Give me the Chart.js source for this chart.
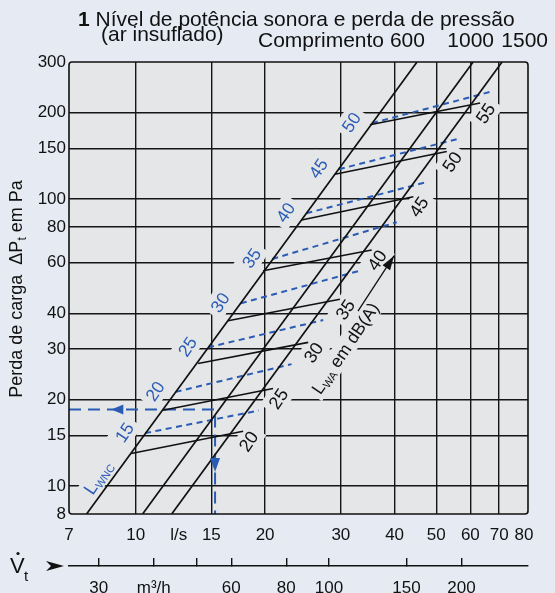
<!DOCTYPE html>
<html>
<head>
<meta charset="utf-8">
<script src="https://cdn.jsdelivr.net/npm/chart.js@4.4.0/dist/chart.umd.min.js"></script>
<style>
  html, body { margin: 0; padding: 0; background: #e5eaf3; }
</style>
</head>
<body>
<canvas id="chart" width="555" height="593"></canvas>
<script>
// Volume flow (l/s, m3/h) against total pressure loss (Pa), log-log nomogram

const flowMin = 7, flowMax = 81.7;
const dpMin = 8, dpMax = 300;
const flowTicks = [7, 10, 12.6, 15, 20, 30, 40, 50, 60, 70, 80];
const flowTickText = ['7', '10', 'l/s', '15', '20', '30', '40', '50', '60', '70', '80'];
const m3hTicks = [30, 40, 50, 60, 80, 100, 150, 200];
const m3hTickText = ['30', 'm³/h', '', '60', '80', '100', '150', '200'];
const dpTicks = [8, 10, 15, 20, 30, 40, 60, 80, 100, 150, 200, 300];

// duct length lines (Comprimento), flow where each one meets 8 Pa and 300 Pa
const lengths = [600, 1000, 1500];
const lengthFlowLow = [7.69, 10.38, 12.13];
const lengthFlowHigh = [45.1, 60.9, 71.1];

// sound power level lines L_WA
const lwaLevels = [20, 25, 30, 35, 40, 45, 50, 55];
const lwaFlowStart = [9.77, 11.58, 13.97, 16.40, 19.79, 24.31, 29.06, 35.06];
const lwaDpStart = [12.99, 18.39, 26.76, 37.67, 56.29, 84.56, 122.0, 181.3];
const lwaFlowEnd = [17.78, 20.87, 25.19, 29.85, 35.39, 44.23, 52.89, 63.23];
const lwaDpEnd = [15.54, 21.89, 31.67, 44.75, 66.46, 101.9, 146.3, 215.9];

// noise criterion lines L_WNC
const wncLevels = [15, 20, 25, 30, 35, 40, 45, 50];
const wncFlowStart = [10.52, 12.39, 14.74, 17.56, 20.78, 24.94, 29.69, 35.44];
const wncDpStart = [15.30, 21.30, 30.43, 43.32, 61.83, 89.23, 127.0, 183.8];
const wncFlowEnd = [19.34, 23.04, 27.30, 33.23, 40.46, 47.09, 55.80, 67.33];
const wncDpEnd = [18.34, 26.61, 37.89, 56.29, 83.0, 114.1, 161.6, 236.9];

// reading example: 15.3 l/s gives 18.5 Pa
const exampleFlow = 15.3;
const exampleDp = 18.5;

const FONT = '"Liberation Sans", Arial, Helvetica, sans-serif';
const INK = '#111111';
const BLUE = '#2a5cb5';
const PAGE_BG = '#e5eaf3';
const PLOT_BG = '#e5e6e8';
const ANG = -56 * Math.PI / 180;

function setFont(ctx, r) {
  ctx.font = (r.bold ? 'bold ' : '') + r.size + 'px ' + FONT;
}
function runsWidth(ctx, runs) {
  let w = 0;
  for (const r of runs) { setFont(ctx, r); w += ctx.measureText(r.t).width; }
  return w;
}
// text made of pieces (subscripts etc.), centred on x,y and turned by angle
function drawRuns(ctx, runs, x, y, angle, color) {
  const w = runsWidth(ctx, runs);
  const size = runs[0].size;
  ctx.save();
  ctx.translate(x, y);
  ctx.rotate(angle);
  ctx.fillStyle = color;
  ctx.textAlign = 'left';
  ctx.textBaseline = 'alphabetic';
  let cx = -w / 2;
  for (const r of runs) {
    setFont(ctx, r);
    ctx.fillText(r.t, cx, size * 0.36 + (r.dy || 0));
    cx += ctx.measureText(r.t).width;
  }
  ctx.restore();
}
// knock the grid out behind a label
function clearBehind(ctx, runs, x, y, angle, pad) {
  const w = runsWidth(ctx, runs);
  const h = runs[0].size * 0.75;
  ctx.save();
  ctx.translate(x, y);
  ctx.rotate(angle);
  ctx.fillStyle = PLOT_BG;
  ctx.fillRect(-w / 2 - pad, -h / 2 - pad, w + 2 * pad, h + 2 * pad);
  ctx.restore();
}
function arrowHead(ctx, tx, ty, fx, fy, len, half, color) {
  const a = Math.atan2(ty - fy, tx - fx);
  ctx.save();
  ctx.translate(tx, ty);
  ctx.rotate(a);
  ctx.fillStyle = color;
  ctx.beginPath();
  ctx.moveTo(0, 0);
  ctx.lineTo(-len, -half);
  ctx.lineTo(-len, half);
  ctx.closePath();
  ctx.fill();
  ctx.restore();
}

function labelList(chart) {
  const xs = chart.scales.x, ys = chart.scales.y;
  const list = [];
  lwaLevels.forEach((lv, i) => {
    list.push({ runs: [{ t: String(lv), size: 18 }], color: INK, pad: 5,
      x: xs.getPixelForValue(lwaFlowEnd[i]) + 5, y: ys.getPixelForValue(lwaDpEnd[i]) + 10 });
  });
  wncLevels.forEach((lv, i) => {
    list.push({ runs: [{ t: String(lv), size: 17.5 }], color: BLUE, pad: 5,
      x: xs.getPixelForValue(wncFlowStart[i]) - 21, y: ys.getPixelForValue(wncDpStart[i]) - 1 });
  });
  list.push({ runs: [{ t: 'L', size: 18 }, { t: 'WNC', size: 11, dy: 3 }], color: BLUE, pad: 4,
    x: xs.getPixelForValue(8.16), y: ys.getPixelForValue(10.74) });
  list.push({ runs: [{ t: 'L', size: 17.5 }, { t: 'WA', size: 11, dy: 3 }, { t: ' em dB(A)', size: 17.5 }],
    color: INK, pad: 4, x: xs.getPixelForValue(30.67), y: ys.getPixelForValue(30.26) });
  return list;
}

const nomogram = {
  id: 'nomogram',
  beforeDraw(chart) {
    const { ctx, chartArea: a } = chart;
    ctx.save();
    ctx.fillStyle = PAGE_BG;
    ctx.fillRect(0, 0, chart.width, chart.height);
    ctx.fillStyle = PLOT_BG;
    ctx.fillRect(a.left, a.top, a.right - a.left, a.bottom - a.top);
    ctx.restore();
  },
  beforeDatasetsDraw(chart) {
    const { ctx, chartArea: a } = chart;
    ctx.save();
    ctx.beginPath();
    ctx.rect(a.left, a.top, a.right - a.left, a.bottom - a.top);
    ctx.clip();
    for (const l of labelList(chart)) clearBehind(ctx, l.runs, l.x, l.y, ANG, l.pad);
    ctx.restore();
  },
  afterDatasetsDraw(chart) {
    const { ctx, chartArea: a } = chart;
    const xs = chart.scales.x, ys = chart.scales.y, x2 = chart.scales.x2;

    for (const l of labelList(chart)) drawRuns(ctx, l.runs, l.x, l.y, ANG, l.color);

    // arrow along L_WA em dB(A)
    const ax0 = xs.getPixelForValue(32.88), ay0 = ys.getPixelForValue(40.73);
    const ax1 = xs.getPixelForValue(39.87), ay1 = ys.getPixelForValue(63.33);
    ctx.save();
    ctx.strokeStyle = INK;
    ctx.lineWidth = 1.3;
    ctx.beginPath();
    ctx.moveTo(ax0, ay0);
    ctx.lineTo(ax1, ay1);
    ctx.stroke();
    ctx.restore();
    arrowHead(ctx, ax1, ay1, ax0, ay0, 14, 4.5, INK);

    // arrow heads on the reading example
    const ey = ys.getPixelForValue(exampleDp);
    const ex = xs.getPixelForValue(exampleFlow);
    arrowHead(ctx, xs.getPixelForValue(8.78), ey, ex, ey, 12, 5, BLUE);
    arrowHead(ctx, ex, ys.getPixelForValue(11.2), ex, ey, 14, 5, BLUE);

    // frame of the plot
    ctx.save();
    ctx.strokeStyle = INK;
    ctx.lineWidth = 1.6;
    ctx.beginPath();
    ctx.roundRect(a.left, a.top, a.right - a.left, a.bottom - a.top, 3);
    ctx.stroke();
    ctx.restore();

    // headings
    ctx.save();
    ctx.fillStyle = INK;
    ctx.textBaseline = 'alphabetic';
    ctx.textAlign = 'left';
    ctx.font = 'bold 21px ' + FONT;
    ctx.fillText('1', 78, 26);
    const w1 = ctx.measureText('1').width;
    ctx.font = '21px ' + FONT;
    ctx.fillText(' Nível de potência sonora e perda de pressão', 78 + w1, 26);
    ctx.fillText('(ar insuflado)', 101, 41);
    ctx.fillText('Comprimento 600', 258, 47);
    ctx.textAlign = 'right';
    ctx.fillText('1000', 494, 47);
    ctx.fillText('1500', 548, 47);
    ctx.restore();

    // y axis title
    drawRuns(ctx, [{ t: 'Perda de carga  ΔP', size: 18 }, { t: 't', size: 12, dy: 4 }, { t: ' em Pa', size: 18 }],
      16, 289, -Math.PI / 2, INK);

    // flow symbol and arrow at the m3/h scale
    const ly = x2.top;
    ctx.save();
    ctx.fillStyle = INK;
    ctx.font = '22px ' + FONT;
    ctx.textAlign = 'left';
    ctx.fillText('V', 10, 573);
    ctx.beginPath();
    ctx.arc(18, 553.5, 1.6, 0, Math.PI * 2);
    ctx.fill();
    ctx.font = '15px ' + FONT;
    ctx.fillText('t', 24, 581);
    ctx.beginPath();
    ctx.moveTo(64, ly);
    ctx.lineTo(46, ly - 5);
    ctx.lineTo(51, ly);
    ctx.lineTo(46, ly + 5);
    ctx.closePath();
    ctx.fill();
    ctx.restore();
  }
};

const datasets = [];
lengths.forEach((len, i) => {
  datasets.push({
    label: 'Comprimento ' + len,
    data: [{ x: lengthFlowLow[i], y: dpMin }, { x: lengthFlowHigh[i], y: dpMax }],
    borderColor: INK, borderWidth: 1.7
  });
});
lwaLevels.forEach((lv, i) => {
  datasets.push({
    label: 'LWA ' + lv,
    data: [{ x: lwaFlowStart[i], y: lwaDpStart[i] }, { x: lwaFlowEnd[i], y: lwaDpEnd[i] }],
    borderColor: INK, borderWidth: 1.6
  });
});
wncLevels.forEach((lv, i) => {
  datasets.push({
    label: 'LWNC ' + lv,
    data: [{ x: wncFlowStart[i], y: wncDpStart[i] }, { x: wncFlowEnd[i], y: wncDpEnd[i] }],
    borderColor: BLUE, borderWidth: 2, borderDash: [6, 4.5]
  });
});
datasets.push({
  label: 'exemplo',
  data: [{ x: flowMin, y: exampleDp }, { x: exampleFlow, y: exampleDp }, { x: exampleFlow, y: dpMin }],
  borderColor: BLUE, borderWidth: 2, borderDash: [12, 7]
});

const noGrid = (list) => (c) => (c.tick && list.includes(c.tick.value)) ? 'rgba(0,0,0,0)' : '#151515';

new Chart(document.getElementById('chart'), {
  type: 'line',
  data: { datasets },
  options: {
    responsive: false,
    animation: false,
    layout: { padding: { top: 62, right: 27, left: 0, bottom: 0 } },
    elements: { point: { radius: 0 }, line: { tension: 0, fill: false } },
    plugins: { legend: { display: false }, tooltip: { enabled: false } },
    scales: {
      x: {
        type: 'logarithmic', position: 'bottom', weight: 0,
        min: flowMin, max: flowMax,
        afterBuildTicks: (s) => { s.ticks = flowTicks.map(v => ({ value: v })); },
        afterFit: (s) => { s.height = 52; },
        border: { display: false },
        grid: { color: noGrid([7, 12.6, 80]), lineWidth: 1.4, drawTicks: false },
        ticks: {
          autoSkip: false, maxRotation: 0, padding: 11, color: INK,
          font: { size: 17, family: FONT },
          callback: (v, i) => flowTickText[i]
        }
      },
      x2: {
        type: 'logarithmic', position: 'bottom', weight: 1,
        min: 25.67, max: 283.2,
        afterBuildTicks: (s) => { s.ticks = m3hTicks.map(v => ({ value: v })); },
        afterFit: (s) => { s.height = 27; },
        border: { display: true, color: INK, width: 1.5 },
        grid: { drawOnChartArea: false, drawTicks: true, tickLength: -8, color: INK, lineWidth: 1.4 },
        ticks: {
          autoSkip: false, maxRotation: 0, padding: 20, color: INK,
          font: { size: 17, family: FONT },
          callback: (v, i) => m3hTickText[i]
        }
      },
      y: {
        type: 'logarithmic', position: 'left',
        min: dpMin, max: dpMax,
        afterBuildTicks: (s) => { s.ticks = dpTicks.map(v => ({ value: v })); },
        afterFit: (s) => { s.width = 69; },
        border: { display: false },
        grid: { color: noGrid([8, 300]), lineWidth: 1.4, drawTicks: false },
        ticks: {
          autoSkip: false, padding: 3, color: INK,
          font: { size: 17, family: FONT },
          callback: (v, i) => String(dpTicks[i])
        }
      }
    }
  },
  plugins: [nomogram]
});
</script>
</body>
</html>
